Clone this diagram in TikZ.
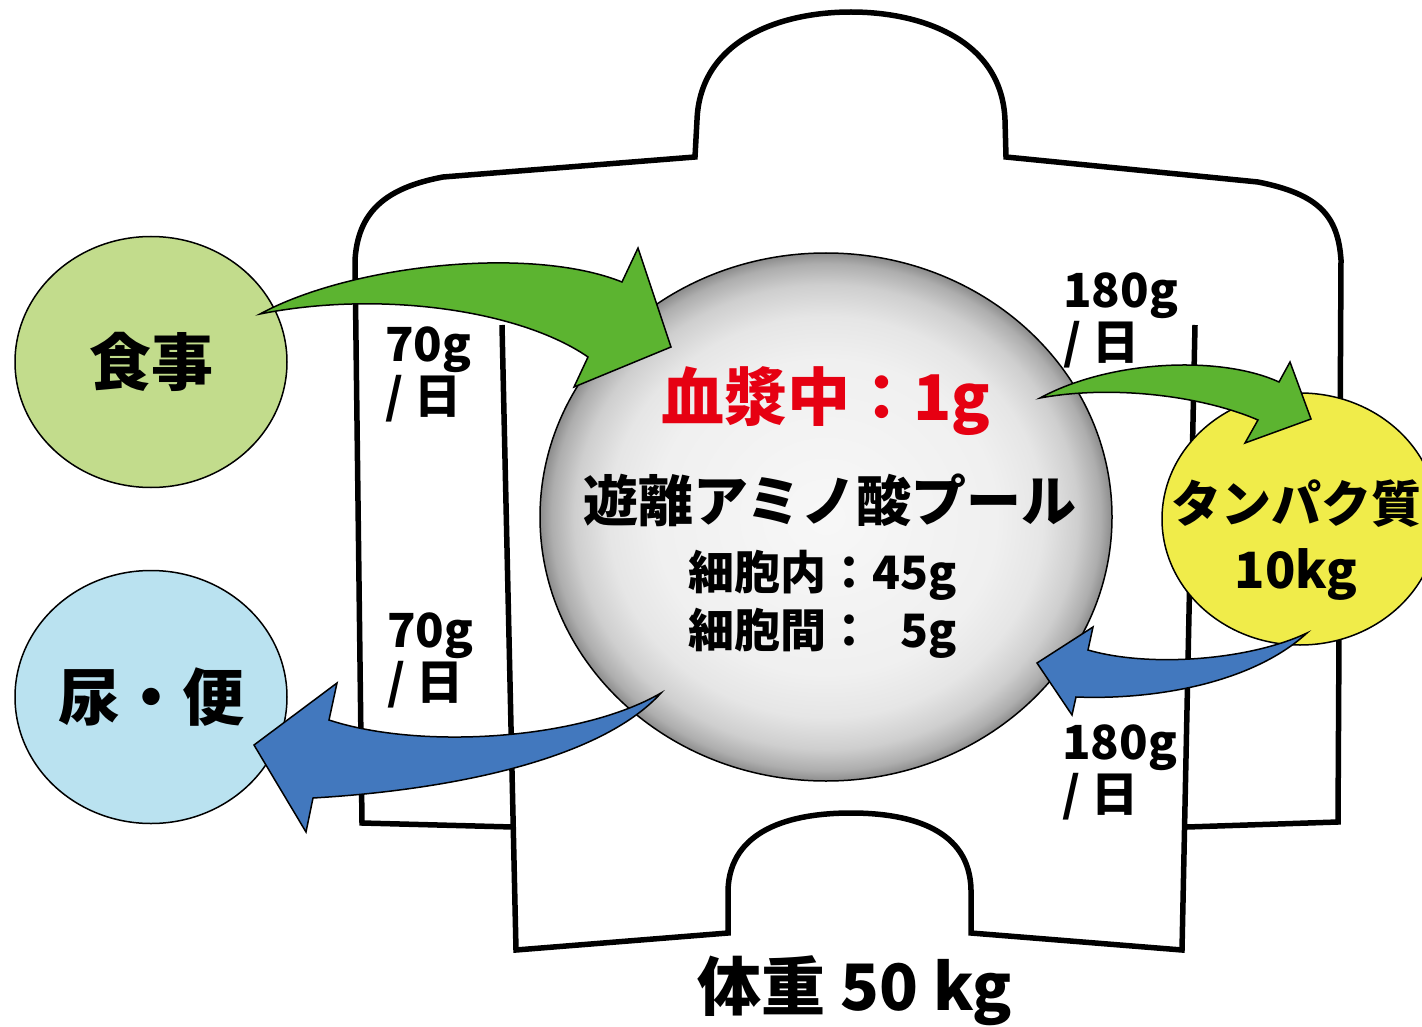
\documentclass[tikz,border=0pt]{standalone}
\usepackage{fontspec}
\setmainfont{Noto Sans CJK JP}
\usetikzlibrary{shapes.geometric}

\definecolor{foodgreen}{RGB}{194,220,140}
\definecolor{excretablue}{RGB}{186,226,240}
\definecolor{protyellow}{RGB}{240,236,74}
\definecolor{arrowgreen}{RGB}{92,180,48}
\definecolor{arrowblue}{RGB}{66,120,190}
\definecolor{plasmared}{RGB}{230,0,18}

% soft grey sphere: almost white inside, darkening only near the rim
\pgfdeclareradialshading{poolshade}{\pgfpoint{0bp}{0bp}}{%
  color(0bp)=(white!97!black);
  color(15bp)=(white!94!black);
  color(19bp)=(white!90!black);
  color(22bp)=(white!81!black);
  color(24bp)=(white!68!black);
  color(25bp)=(white!55!black);
  color(50bp)=(white!55!black)}

\begin{document}
\begin{tikzpicture}[x=1pt,y=-1pt,
  outline/.style={line width=5.5pt},
  bubble/.style={ellipse, draw=black, line width=1.5pt, inner sep=0pt},
  blockarrow/.style={draw=black, line width=1.5pt},
  lbl/.style={inner sep=0pt, align=left, anchor=north west,
    font=\fontsize{47}{52}\selectfont\bfseries},
  bigtext/.style={inner sep=0pt, font=\fontsize{62}{70}\selectfont\bfseries},
]
\useasboundingbox (0,0) rectangle (1422,1027);
\fill[white] (0,0) rectangle (1422,1027);

% body silhouette: head, shoulders and arms
\draw[outline] (513,827) -- (362,823) -- (355,260)
  .. controls (358,212) and (385,188) .. (443,177)
  -- (695,157) -- (697,120)
  .. controls (700,40) and (780,12) .. (851,12)
  .. controls (922,12) and (1002,40) .. (1005,120)
  -- (1006,157) -- (1258,182)
  .. controls (1318,194) and (1338,215) .. (1341,260)
  -- (1338,822) -- (1187,827);
% trunk and legs
\draw[outline] (502,325) -- (516,950) -- (728,933) -- (728,890)
  .. controls (730,830) and (790,813) .. (851,813)
  .. controls (912,813) and (970,830) .. (971,890)
  -- (971,933) -- (1182,950) -- (1195,325);

% compartments
\node[bubble, fill=foodgreen, minimum width=272pt, minimum height=251pt,
  font=\fontsize{62}{70}\selectfont\bfseries] (food) at (151,362) {食事};
\node[bubble, fill=excretablue, minimum width=272pt, minimum height=253pt,
  font=\fontsize{62}{70}\selectfont\bfseries] (excreta) at (151,697) {尿・便};
\node[bubble, fill=protyellow, minimum width=276pt, minimum height=252pt] (protein) at (1300,519) {};
\node[ellipse, draw=black, line width=1.5pt, inner sep=0pt, shade, shading=poolshade,
  minimum width=572pt, minimum height=528pt] (pool) at (826,517) {};

% flows
\coordinate (g1tail) at (260,314);
\draw[blockarrow, fill=arrowgreen] (g1tail)
  .. controls (350,265) and (530,245) .. (622,282)
  -- (638,248) -- (671,347) -- (574,387) -- (588,357)
  .. controls (520,310) and (380,290) .. (g1tail) -- cycle;

\coordinate (g2tail) at (1040,398);
\draw[blockarrow, fill=arrowgreen] (g2tail)
  .. controls (1110,360) and (1220,355) .. (1279,382)
  -- (1290,362) -- (1311,419) -- (1245,443) -- (1258,420)
  .. controls (1200,395) and (1110,385) .. (g2tail) -- cycle;

\coordinate (b1tail) at (661,693);
\draw[blockarrow, fill=arrowblue] (b1tail)
  .. controls (580,740) and (420,750) .. (329,720)
  -- (337,683) -- (254,745) -- (306,832) -- (313,798)
  .. controls (450,790) and (600,760) .. (b1tail) -- cycle;

\coordinate (b2tail) at (1307,633);
\draw[blockarrow, fill=arrowblue] (b2tail)
  .. controls (1250,660) and (1150,668) .. (1088,650)
  -- (1093,627) -- (1037,663) -- (1072,715) -- (1076,697)
  .. controls (1150,700) and (1250,685) .. (b2tail) -- cycle;

% texts in the pool
\node[inner sep=0pt, text=plasmared, font=\fontsize{63}{70}\selectfont\bfseries] (plasma) at (826,401) {血漿中：1g};
\node[inner sep=0pt, font=\fontsize{55}{60}\selectfont\bfseries] (poolname) at (830,500) {遊離アミノ酸プール};
\node[inner sep=0pt, anchor=west, font=\fontsize{46}{50}\selectfont\bfseries] (intra) at (688,575) {細胞内：45g};
\node[inner sep=0pt, anchor=west, font=\fontsize{46}{50}\selectfont\bfseries] (inter) at (688,633) {細胞間：\phantom{4}5g};

% protein store
\node[inner sep=0pt, align=center, font=\fontsize{50}{66}\selectfont\bfseries] (proteintext) at (1296,540) {タンパク質\\10kg};

% daily amounts
\node[lbl] (intake) at (385,327) {70g\\/ 日};
\node[lbl] (loss) at (387,613) {70g\\/ 日};
\node[lbl] (synth) at (1063,273) {180g\\/ 日};
\node[lbl] (degr) at (1062,725) {180g\\/ 日};

% body weight
\node[bigtext, font=\fontsize{64}{70}\selectfont\bfseries] (weight) at (855,991) {体重 50 kg};
\end{tikzpicture}
\end{document}
